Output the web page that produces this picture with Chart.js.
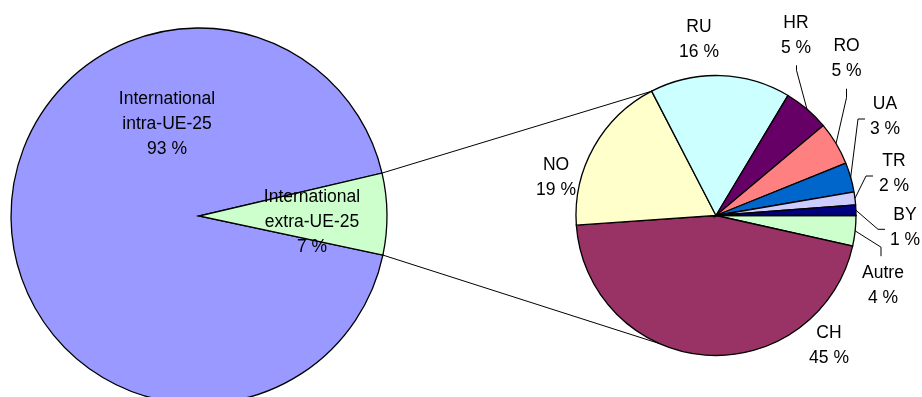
<!DOCTYPE html>
<html>
<head>
<meta charset="utf-8">
<script src="https://cdn.jsdelivr.net/npm/chart.js@4"></script>
<style>
  html, body { margin: 0; padding: 0; background: #ffffff; }
  #wrap { position: relative; width: 922px; height: 397px; overflow: hidden; background: #ffffff; }
  canvas { position: absolute; display: block; }
</style>
</head>
<body>
<div id="wrap">
  <canvas id="left" width="398" height="432" style="left:0px;top:0px;width:398px;height:432px;"></canvas>
  <canvas id="right" width="412" height="431" style="left:510px;top:0px;width:412px;height:431px;"></canvas>
  <canvas id="overlay" width="922" height="397" style="left:0px;top:0px;width:922px;height:397px;pointer-events:none;"></canvas>
</div>
<script>
// ---- Data: main pie ----
const mainCategories = [["International", "intra-UE-25"], ["International", "extra-UE-25"]];
const mainValues = [93, 7];
const mainPctLabels = ["93 %", "7 %"];

// ---- Data: detail pie (breakdown of extra-UE-25) ----
const detailCategories = ["Autre", "CH", "NO", "RU", "HR", "RO", "UA", "TR", "BY"];
const detailValues = [3.5, 45.4, 18.5, 16.2, 5.3, 5.0, 3.4, 1.5, 1.2];
const detailPctLabels = ["4 %", "45 %", "19 %", "16 %", "5 %", "5 %", "3 %", "2 %", "1 %"];

// ---- Styles / layout (not data) ----
const mainColors = ["#9999FF", "#CCFFCC"];
const detailColors = ["#CCFFCC", "#993366", "#FFFFCC", "#CCFFFF", "#660066", "#FF8080", "#0066CC", "#CCCCFF", "#000080"];
const FONT = '17.5px "Liberation Sans", Arial, sans-serif';
const LINE_H = 25;
// label block centre offsets from pie centre (px)
const mainLabelOffsets = [[-32, -92], [113, 5.7]];
const detailLabelOffsets = [[167, 69.7], [113, 130], [-160, -38], [-17, -175.5], [80, -179.7], [130.5, -156.8], [169, -99], [178, -41.5], [189, 12.5]];
// leader elbows relative to label centre: [x1,y1,x2,y2] or null
const detailLeaders = [[-2, -38, -2, -29], null, null, null, [0.5, 34.5, 0.5, 29.5], [0, 39, 0, 30], [-27, 2.5, -20, 2.5], [-28, 2, -21, 2], [-27, 1.3, -20, 1.3]];
const connectorAnglesDeg = [242.5, 113.8];

const leftOffset = { x: 0, y: 0 };
const rightOffset = { x: 510, y: 0 };

function pieOptions(radius, rotation) {
  return {
    responsive: false,
    animation: false,
    events: [],
    radius: radius,
    rotation: rotation,
    layout: { padding: 0 },
    plugins: { legend: { display: false }, tooltip: { enabled: false } },
    elements: { arc: { borderColor: "#000000", borderWidth: 1.3, borderJoinStyle: "miter" } }
  };
}

const leftChart = new Chart(document.getElementById("left"), {
  type: "pie",
  data: {
    labels: mainCategories.map(c => c.join(" ")),
    datasets: [{ data: mainValues, backgroundColor: mainColors }]
  },
  options: pieOptions(188, 102)
});

const rightChart = new Chart(document.getElementById("right"), {
  type: "pie",
  data: {
    labels: detailCategories,
    datasets: [{ data: detailValues, backgroundColor: detailColors }]
  },
  options: pieOptions(140, 90)
});

function drawOverlay() {
  const cv = document.getElementById("overlay");
  const ctx = cv.getContext("2d");
  ctx.clearRect(0, 0, cv.width, cv.height);
  ctx.strokeStyle = "#000000";
  ctx.lineWidth = 1;

  const lArcs = leftChart.getDatasetMeta(0).data;
  const rArcs = rightChart.getDatasetMeta(0).data;
  const lc = { x: lArcs[0].x + leftOffset.x, y: lArcs[0].y + leftOffset.y, r: lArcs[0].outerRadius };
  const rc = { x: rArcs[0].x + rightOffset.x, y: rArcs[0].y + rightOffset.y, r: rArcs[0].outerRadius };

  // connector lines from the split slice to the detail pie
  const g = lArcs[1];
  const starts = [g.startAngle, g.endAngle];
  for (let i = 0; i < 2; i++) {
    const a0 = starts[i];
    const a1 = connectorAnglesDeg[i] * Math.PI / 180;
    ctx.beginPath();
    ctx.moveTo(lc.x + lc.r * Math.cos(a0), lc.y + lc.r * Math.sin(a0));
    ctx.lineTo(rc.x + rc.r * Math.cos(a1), rc.y + rc.r * Math.sin(a1));
    ctx.stroke();
  }

  ctx.font = FONT;
  ctx.fillStyle = "#000000";
  ctx.textAlign = "center";
  ctx.textBaseline = "middle";

  function block(cx, cy, lines) {
    const n = lines.length;
    lines.forEach((t, k) => ctx.fillText(t, cx, cy + (k - (n - 1) / 2) * LINE_H));
  }

  // main pie labels
  mainCategories.forEach((cat, i) => {
    const o = mainLabelOffsets[i];
    block(lc.x + o[0], lc.y + o[1], [...cat, mainPctLabels[i]]);
  });

  // detail pie leaders + labels
  detailCategories.forEach((cat, i) => {
    const o = detailLabelOffsets[i];
    const lx = rc.x + o[0], ly = rc.y + o[1];
    const L = detailLeaders[i];
    if (L) {
      const arc = rArcs[i];
      const mid = (arc.startAngle + arc.endAngle) / 2;
      ctx.beginPath();
      ctx.moveTo(rc.x + rc.r * Math.cos(mid), rc.y + rc.r * Math.sin(mid));
      ctx.lineTo(lx + L[0], ly + L[1]);
      ctx.lineTo(lx + L[2], ly + L[3]);
      ctx.stroke();
    }
    block(lx, ly, [cat, detailPctLabels[i]]);
  });
}

drawOverlay();
</script>
</body>
</html>
